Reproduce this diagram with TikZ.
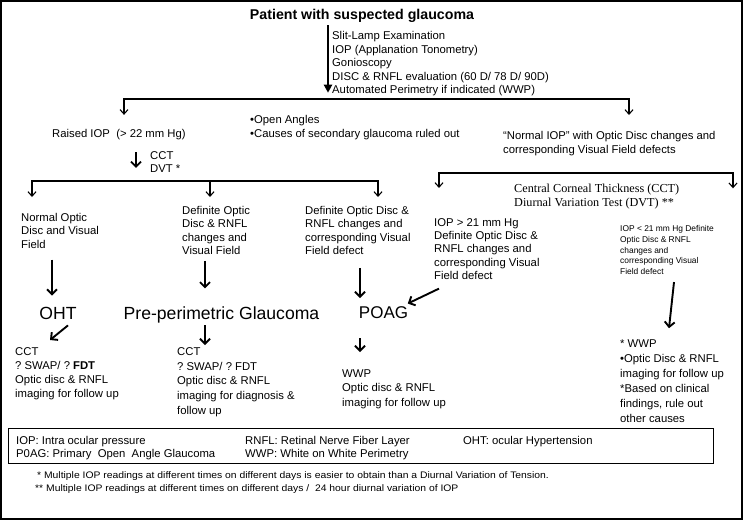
\documentclass[tikz,border=0pt]{standalone}
\usepackage{fontspec}
\setmainfont{Liberation Sans}
\newfontfamily\serifface{Liberation Serif}
\newfontfamily\wideface[FakeStretch=1.09]{Liberation Sans}
\usetikzlibrary{arrows.meta}
\frenchspacing
\begin{document}
\begin{tikzpicture}[x=1pt,y=-1pt]
        \tikzset{
            block/.style={anchor=north west,inner sep=0pt,align=left,font=\fontsize{11.3}{13.3}\selectfont},
            line/.style={anchor=base west,inner sep=0pt,font=\fontsize{11.3}{13.3}\selectfont},
            diag/.style={anchor=base,inner sep=0pt,font=\fontsize{17.6}{20}\selectfont},
            note/.style={anchor=base west,inner sep=0pt,font=\wideface\fontsize{9.5}{11}\selectfont},
            lead/.style={-{Straight Barb[length=5pt,width=10pt]}, line width=1.9pt},
            fork/.style={-{Straight Barb[length=4.5pt,width=8pt]}, line width=1.1pt},
            forks/.style={{Straight Barb[length=4.5pt,width=8pt]}-{Straight Barb[length=4.5pt,width=8pt]}, line width=1.1pt},
            exam/.style={-{Triangle[length=8pt,width=8pt]}, line width=2pt}
        }
        \useasboundingbox (0,0) rectangle (743,520);
        \draw[line width=1.5pt] (1,1) rectangle (742,519);
        % top of the chart
        \node[anchor=base,inner sep=0pt,font=\bfseries\fontsize{14.2}{16}\selectfont] (title) at (362,19.1) {Patient with suspected glaucoma};
        \node[block,font=\fontsize{11.3}{13.5}\selectfont] (exams) at (332,31.2) {Slit-Lamp Examination\\IOP (Applanation Tonometry)\\Gonioscopy\\DISC \& RNFL evaluation (60 D/ 78 D/ 90D)\\Automated Perimetry if indicated (WWP)};
        \node[line] (raised) at (52,137.05) {Raised IOP\ \ (> 22 mm Hg)};
        \node[block,font=\fontsize{11.3}{14}\selectfont] (angles) at (250,115.2) {•Open Angles\\•Causes of secondary glaucoma ruled out};
        \node[block,font=\fontsize{11.3}{13.5}\selectfont] (normaliop) at (503,131.2) {``Normal IOP'' with Optic Disc changes and\\corresponding Visual Field defects};
        \node[block,font=\fontsize{11.3}{13.5}\selectfont] (cctdvt) at (150,151.2) {CCT\\DVT *};
        % second level
        \node[block] (normdisc) at (21,213.2) {Normal Optic\\Disc and Visual\\Field};
        \node[block] (defdisc) at (182,206.2) {Definite Optic\\Disc \& RNFL\\changes and\\Visual Field};
        \node[block] (defdefect) at (305,206.2) {Definite Optic Disc \&\\RNFL changes and\\corresponding Visual\\Field defect};
        \node[block,font=\serifface\fontsize{12.2}{14}\selectfont] (cctserif) at (514,183.6) {Central Corneal Thickness (CCT)\\Diurnal Variation Test (DVT) **};
        \node[block,font=\fontsize{11.3}{13.25}\selectfont] (highiop) at (434,218.2) {IOP > 21 mm Hg\\Definite Optic Disc \&\\RNFL changes and\\corresponding Visual\\Field defect};
        \node[block,font=\fontsize{8.4}{10.8}\selectfont] (lowiop) at (620,225.3) {IOP < 21 mm Hg Definite\\Optic Disc \& RNFL\\changes and\\corresponding Visual\\Field defect};
        % diagnoses
        \node[diag] (oht) at (58,319.4) {OHT};
        \node[diag] (preglau) at (221.5,319.4) {Pre-perimetric Glaucoma};
        \node[diag,font=\fontsize{17}{20}\selectfont] (poag) at (383.5,318.4) {POAG};
        % follow up
        \node[block,font=\fontsize{11.3}{14}\selectfont] (ohtnext) at (15,347.2) {CCT\\? SWAP/ ? \textbf{FDT}\\Optic disc \& RNFL\\imaging for follow up};
        \node[block,font=\fontsize{11.3}{14.7}\selectfont] (prenext) at (177,347.2) {CCT\\? SWAP/ ? FDT\\Optic disc \& RNFL\\imaging for diagnosis \&\\follow up};
        \node[block,font=\fontsize{11.3}{14.5}\selectfont] (poagnext) at (342,369.2) {WWP\\Optic disc \& RNFL\\imaging for follow up};
        \node[block,font=\fontsize{11.3}{15}\selectfont] (lownext) at (620,339.2) {* WWP\\•Optic Disc \& RNFL\\imaging for follow up\\*Based on clinical\\findings, rule out\\other causes};
        % legend
        \draw[line width=1pt] (8,428) rectangle (713,463);
        \node[block] (legA) at (16,436.2) {IOP: Intra ocular pressure\\P0AG: Primary\ \ Open\ \ Angle Glaucoma};
        \node[block] (legB) at (245,436.2) {RNFL: Retinal Nerve Fiber Layer\\WWP: White on White Perimetry};
        \node[block] (legC) at (463,436.2) {OHT: ocular Hypertension};
        \node[note] (note1) at (37,478.3) {* Multiple IOP readings at different times on different days is easier to obtain than a Diurnal Variation of Tension.};
        \node[note] (note2) at (35,491.3) {** Multiple IOP readings at different times on different days /\ \ 24 hour diurnal variation of IOP};
        % splits
        \coordinate (L1) at (124,99);
        \coordinate (R1) at (629,99);
        \coordinate (L2) at (32,181);
        \coordinate (M2) at (210,181);
        \coordinate (R2) at (378,181);
        \coordinate (L3) at (439,173);
        \coordinate (R3) at (733,173);
        \draw[exam, shorten <=3pt, shorten >=3.4pt] ([xshift=-4pt]exams.west |- title.south) -- ([xshift=-4pt]exams.south west);
        \draw[forks, shorten <=13.8pt, shorten >=16.2pt] (L1 |- raised.north) |- (R1) -- (R1 |- normaliop.north);
        \draw[lead, shorten <=0.8pt, shorten >=5pt] ([xshift=-14pt]cctdvt.north west) -- ([xshift=-14pt]cctdvt.south west);
        \draw[forks, shorten <=16.2pt, shorten >=9.2pt] (L2 |- normdisc.north) |- (R2) -- (R2 |- defdefect.north);
        \draw[fork, shorten >=9.2pt] (M2) -- (M2 |- defdisc.north);
        \draw[forks, shorten <=30.2pt, shorten >=37pt] (L3 |- highiop.north) |- (R3) -- (R3 |- lowiop.north);
        % down to the diagnoses
        \draw[lead, shorten <=11pt, shorten >=11.3pt] ([xshift=-6pt]oht.north |- normdisc.south) -- ([xshift=-6pt]oht.north);
        \draw[lead, shorten <=6pt, shorten >=18pt] ([xshift=-16.5pt]preglau.north |- defdisc.south) -- ([xshift=-16.5pt]preglau.north);
        \draw[lead, shorten <=13pt, shorten >=8.3pt] ([xshift=-23.5pt]poag.north |- defdefect.south) -- ([xshift=-23.5pt]poag.north);
        \draw[lead] ([shift={(5,9)}]highiop.south west) -- ([shift={(-0.5,-9)}]poag.east);
        \draw[lead] ([shift={(54,7)}]lowiop.south west) -- ([shift={(49,-11)}]lownext.north west);
        \draw[lead] ([shift={(10,5.6)}]oht.south) -- ([shift={(35,-7.2)}]ohtnext.north west);
        \draw[lead] ([shift={(-16.5,1.8)}]preglau.south) -- ([shift={(28,-2.2)}]prenext.north west);
        \draw[lead] ([shift={(-23.5,19.3)}]poag.south) -- ([shift={(18,-17.2)}]poagnext.north west);
    \end{tikzpicture}
\end{document}
